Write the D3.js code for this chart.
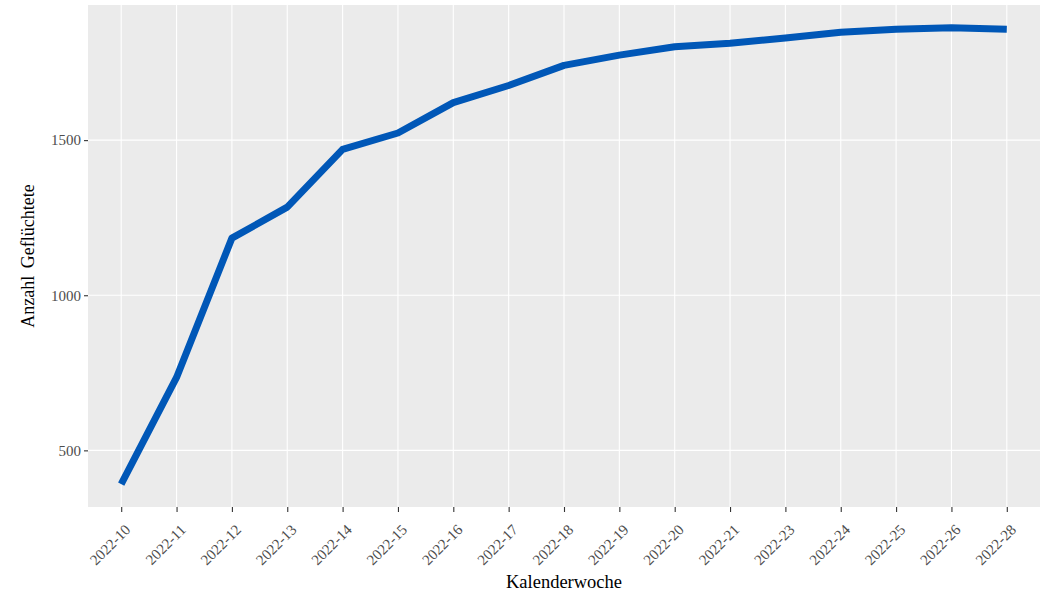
<!DOCTYPE html>
<head>
  <meta charset="utf-8">
  <script src="https://cdn.jsdelivr.net/npm/d3@7"></script>
</head>
<style>
  body { margin: 0; background: #fff; }
  text { font-family: "Liberation Serif", "DejaVu Serif", serif; }
</style>
<body>
<script>

// weeks (2022-22 and 2022-27 are missing in the source)
var weeks = ["2022-10", "2022-11", "2022-12", "2022-13", "2022-14", "2022-15", "2022-16",
             "2022-17", "2022-18", "2022-19", "2022-20", "2022-21", "2022-23", "2022-24",
             "2022-25", "2022-26", "2022-28"];
var refugees = [391, 735, 1184, 1284, 1470, 1523, 1621, 1676, 1741, 1774, 1801, 1812,
                1829, 1848, 1857, 1862, 1857];
var yTicks = [500, 1000, 1500];

var width = 1046, height = 593,
    margin = {top: 5, right: 6, bottom: 86, left: 88};
var w = width - margin.left - margin.right,
    h = height - margin.top - margin.bottom;

var svg = d3.select("body").append("svg")
    .attr("width", width)
    .attr("height", height);

var g = svg.append("g")
    .attr("transform", "translate(" + margin.left + "," + margin.top + ")");

// discrete scale with ggplot-like 0.6 expansion
var x = d3.scalePoint()
    .domain(weeks)
    .range([0, w])
    .padding(0.6);

var lo = d3.min(refugees), hi = d3.max(refugees), pad = (hi - lo) * 0.05;
var y = d3.scaleLinear()
    .domain([lo - pad, hi + pad])
    .range([h, 0]);

g.append("rect")
    .attr("width", w)
    .attr("height", h)
    .attr("fill", "#ebebeb");

// grid
g.selectAll(".hgrid")
    .data(yTicks)
  .enter().append("line")
    .attr("x1", 0).attr("x2", w)
    .attr("y1", function(d) { return y(d); })
    .attr("y2", function(d) { return y(d); })
    .attr("stroke", "#fff")
    .attr("stroke-width", 1.1);

g.selectAll(".vgrid")
    .data(weeks)
  .enter().append("line")
    .attr("y1", 0).attr("y2", h)
    .attr("x1", function(d) { return x(d); })
    .attr("x2", function(d) { return x(d); })
    .attr("stroke", "#fff")
    .attr("stroke-width", 1.1);

// line
var line = d3.line()
    .x(function(d, i) { return x(weeks[i]); })
    .y(function(d) { return y(d); });

g.append("path")
    .datum(refugees)
    .attr("d", line)
    .attr("fill", "none")
    .attr("stroke", "#0057b7")
    .attr("stroke-width", 7)
    .attr("stroke-linejoin", "round");

// axes
var xAxis = g.append("g")
    .attr("transform", "translate(0," + h + ")")
    .call(d3.axisBottom(x).tickSize(5).tickPadding(3));

xAxis.selectAll("text")
    .attr("text-anchor", "end")
    .attr("dy", "0.35em")
    .attr("transform", "translate(6,20) rotate(-45)")
    .attr("x", 0).attr("y", 0);

var yAxis = g.append("g")
    .call(d3.axisLeft(y).tickValues(yTicks).tickFormat(d3.format("d")).tickSize(4).tickPadding(3));

[xAxis, yAxis].forEach(function(a) {
  a.attr("font-size", 15).attr("font-family", "Liberation Serif, serif");
  a.select(".domain").remove();
  a.selectAll(".tick line").attr("stroke", "#333").attr("stroke-width", 1.1);
  a.selectAll(".tick text").attr("fill", "#4d4d4d");
});

// titles
svg.append("text")
    .attr("x", margin.left + w / 2)
    .attr("y", 588)
    .attr("text-anchor", "middle")
    .style("font-size", "18.5px")
    .text("Kalenderwoche");

svg.append("text")
    .attr("transform", "translate(34," + (margin.top + h / 2) + ") rotate(-90)")
    .attr("text-anchor", "middle")
    .style("font-size", "18px")
    .style("word-spacing", "3px")
    .text("Anzahl Geflüchtete");

</script>
</body>
